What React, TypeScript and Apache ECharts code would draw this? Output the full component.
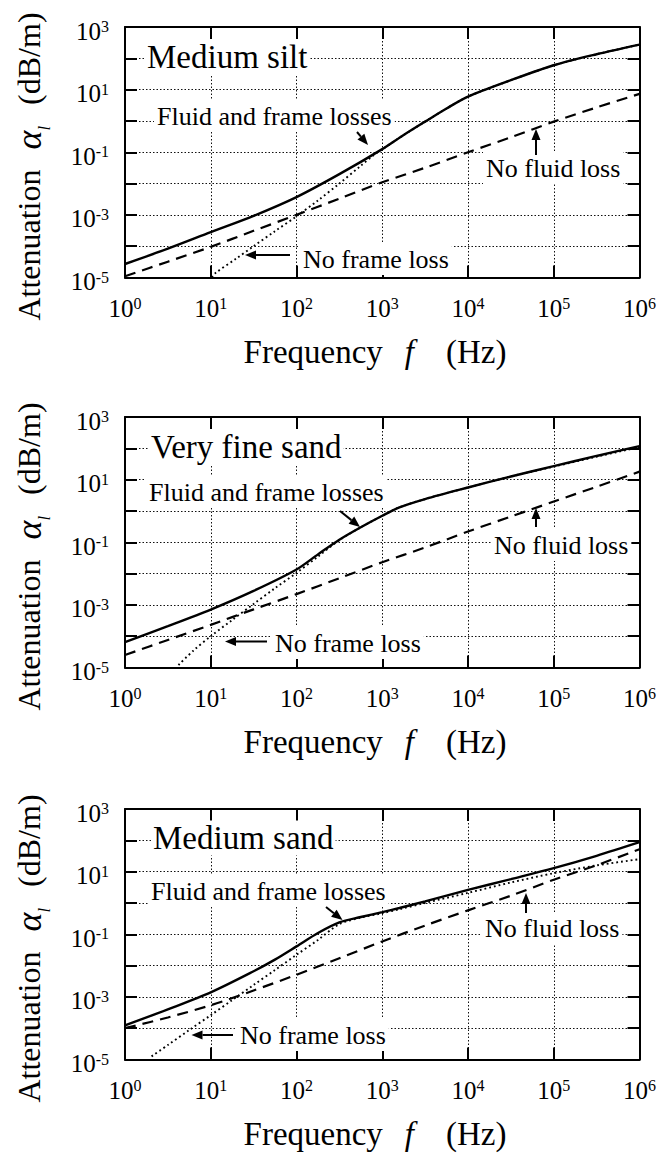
import { useEffect, useRef } from "react";
import * as echarts from "echarts";

// ---------------- data ----------------
// Frequency in Hz, attenuation in dB/m
// Panel 1: Medium silt
const siltFluidFrameF = [1, 3.16, 10, 31.6, 100, 316, 1000, 1778, 3160, 5620, 1e4, 3.16e4, 1e5, 3.16e5, 1e6];
const siltFluidFrameA = [2.7e-5, 8.3e-5, 2.8e-4, 9.3e-4, 3.7e-3, 0.02, 0.126, 0.355, 0.95, 2.5, 6.0, 20, 60, 135, 275];
const siltNoFluidF = [1, 3.16, 10, 31.6, 100, 316, 1000, 3160, 1e4, 3.16e4, 1e5, 3.16e5, 1e6];
const siltNoFluidA = [1.1e-5, 3.2e-5, 9.5e-5, 3.1e-4, 1.0e-3, 3.3e-3, 0.011, 0.032, 0.1, 0.3, 0.95, 2.7, 7.3];
const siltNoFrameF = [10.3, 11.2, 20, 31.6, 56, 100, 178, 316, 562, 800, 1000, 1778, 3160, 5620, 1e4, 3.16e4, 1e5, 3.16e5, 1e6];
const siltNoFrameA = [1.0e-5, 1.35e-5, 4.1e-5, 1.0e-4, 3.0e-4, 9.0e-4, 2.9e-3, 0.01, 0.037, 0.082, 0.124, 0.355, 0.95, 2.5, 6.0, 20, 60, 135, 275];

// Panel 2: Very fine sand
const vfsFluidFrameF = [1, 3.16, 10, 31.6, 100, 178, 316, 562, 1000, 1585, 3160, 1e4, 3.16e4, 1e5, 3.16e5, 1e6];
const vfsFluidFrameA = [6.5e-5, 2.1e-4, 7.1e-4, 2.8e-3, 0.0135, 0.041, 0.12, 0.3, 0.7, 1.3, 2.4, 5.6, 12.6, 27, 57, 118];
const vfsNoFluidF = [1, 3.16, 10, 31.6, 100, 316, 1000, 3160, 1e4, 3.16e4, 1e5, 3.16e5, 1e6];
const vfsNoFluidA = [2.5e-5, 7.6e-5, 2.3e-4, 7.2e-4, 2.2e-3, 7.1e-3, 0.023, 0.068, 0.22, 0.66, 2.0, 5.9, 18];
const vfsNoFrameF = [4.2, 6.3, 10, 17.8, 31.6, 56, 100, 178, 316, 562, 1000, 1585, 3160, 1e4, 3.16e4, 1e5, 3.16e5, 1e6];
const vfsNoFrameA = [1.2e-5, 3.5e-5, 1.0e-4, 3.3e-4, 1.07e-3, 3.4e-3, 0.0105, 0.035, 0.117, 0.3, 0.7, 1.3, 2.4, 5.6, 12.6, 26, 54, 110];

// Panel 3: Medium sand
const msFluidFrameF = [1, 3.16, 10, 31.6, 56, 100, 178, 316, 562, 1000, 1585, 3160, 1e4, 3.16e4, 1e5, 3.16e5, 1e6];
const msFluidFrameA = [1.23e-4, 4.0e-4, 1.4e-3, 6.6e-3, 0.0155, 0.041, 0.11, 0.24, 0.355, 0.51, 0.69, 1.12, 2.6, 5.75, 12.9, 32, 87];
const msNoFluidF = [1, 3.16, 10, 31.6, 100, 316, 1000, 3160, 1e4, 3.16e4, 1e5, 3.16e5, 1e6];
const msNoFluidA = [1.0e-4, 2.2e-4, 5.4e-4, 1.6e-3, 5.1e-3, 0.017, 0.059, 0.19, 0.58, 1.7, 5.5, 16, 52];
const msNoFrameF = [2.04, 3.16, 5.6, 10, 17.8, 31.6, 56, 100, 178, 316, 562, 1000, 1585, 3160, 1e4, 3.16e4, 1e5, 3.16e5, 1e6];
const msNoFrameA = [1.26e-5, 2.9e-5, 8.7e-5, 2.6e-4, 7.9e-4, 2.4e-3, 7.2e-3, 0.022, 0.066, 0.21, 0.34, 0.47, 0.63, 1.0, 2.1, 4.5, 8.9, 15.8, 25];

// Axis ranges and tick labels
const X_MIN = 1;
const X_MAX = 1e6;
const Y_MIN = 1e-5;
const Y_MAX = 1e3;
const X_LABEL_EXPONENTS = [0, 1, 2, 3, 4, 5, 6];
const Y_LABEL_EXPONENTS = [-5, -3, -1, 1, 3];

// Texts
const PANEL_TITLES = ["Medium silt", "Very fine sand", "Medium sand"];
const LABEL_FLUID_FRAME = "Fluid and frame losses";
const LABEL_NO_FRAME = "No frame loss";
const LABEL_NO_FLUID = "No fluid loss";

const PANELS = [
  { title: PANEL_TITLES[0], full: [siltFluidFrameF, siltFluidFrameA], noFluid: [siltNoFluidF, siltNoFluidA], noFrame: [siltNoFrameF, siltNoFrameA] },
  { title: PANEL_TITLES[1], full: [vfsFluidFrameF, vfsFluidFrameA], noFluid: [vfsNoFluidF, vfsNoFluidA], noFrame: [vfsNoFrameF, vfsNoFrameA] },
  { title: PANEL_TITLES[2], full: [msFluidFrameF, msFluidFrameA], noFluid: [msNoFluidF, msNoFluidA], noFrame: [msNoFrameF, msNoFrameA] },
];

// ---------------- layout (pixels) ----------------
const FONT = "Liberation Serif, Times New Roman, serif";
const GRID_LEFT = 125;
const GRID_W = 515;
const GRID_H = 250.5;
const GRID_TOPS = [27, 417, 809];

const ANNOT = [
  { title: [147, 57], ff: [157, 116], ffArrow: [357, 132, 368, 145], nfr: [303, 259], nfrArrow: [290, 255, 245, 255], nfl: [486, 168], nflArrow: [536, 155, 536, 129], yTitle: 166.5, xTitle: 352 },
  { title: [151, 447], ff: [149, 492], ffArrow: [340, 511, 360, 527], nfr: [275, 643], nfrArrow: [267, 641.5, 225, 641.5], nfl: [494, 545], nflArrow: [536, 527, 536, 508], yTitle: 556.5, xTitle: 742 },
  { title: [153, 838], ff: [151, 891], ffArrow: [326, 907, 342.5, 920], nfr: [240, 1035], nfrArrow: [233, 1035, 191.5, 1035], nfl: [485, 928], nflArrow: [526, 913, 526, 893], yTitle: 948.5, xTitle: 1134 },
];

const zip = (f: number[], a: number[]) => f.map((x, i) => [x, a[i]]);

const TICK_RICH = {
  b: { fontFamily: FONT, fontSize: 25, lineHeight: 25, padding: [5, 0, 0, 0], verticalAlign: "bottom", color: "#000" },
  s: { fontFamily: FONT, fontSize: 16, lineHeight: 16, verticalAlign: "top", color: "#000" },
};

function annText(text: string, x: number, y: number, size: number) {
  const pad = 3;
  return {
    type: "text",
    x: x - pad,
    y,
    z: 10,
    style: {
      text,
      fontSize: size,
      fontFamily: FONT,
      fill: "#000",
      align: "left",
      verticalAlign: "middle",
      backgroundColor: "#fff",
      padding: [pad, pad, pad, pad],
    },
  };
}

function arrow(x1: number, y1: number, x2: number, y2: number) {
  const dx = x2 - x1;
  const dy = y2 - y1;
  const L = Math.hypot(dx, dy);
  const ux = dx / L;
  const uy = dy / L;
  const hl = 11;
  const hw = 4.5;
  const bx = x2 - ux * hl;
  const by = y2 - uy * hl;
  const px = -uy;
  const py = ux;
  return [
    { type: "line", z: 11, shape: { x1, y1, x2: bx, y2: by }, style: { stroke: "#000", lineWidth: 2 } },
    {
      type: "polygon",
      z: 11,
      shape: { points: [[x2, y2], [bx + px * hw, by + py * hw], [bx - px * hw, by - py * hw]] },
      style: { fill: "#000" },
    },
  ];
}

function buildOption() {
  const grid: any[] = [];
  const xAxis: any[] = [];
  const yAxis: any[] = [];
  const series: any[] = [];
  const graphic: any[] = [];

  const axisLine = { show: true, onZero: false, lineStyle: { color: "#000", width: 2 } };
  const axisTick = { show: true, inside: true, length: 12, lineStyle: { color: "#000", width: 2 } };
  const splitLine = { show: true, lineStyle: { color: "#111", width: 1, type: [1.5, 2] } };

  PANELS.forEach((p, i) => {
    grid.push({ left: GRID_LEFT, top: GRID_TOPS[i], width: GRID_W, height: GRID_H, containLabel: false });
    xAxis.push({
      type: "log", logBase: 10, gridIndex: i, min: X_MIN, max: X_MAX, position: "bottom", splitNumber: 6,
      axisLine, axisTick, splitLine, minorTick: { show: false },
      axisLabel: {
        show: true, margin: 18, showMinLabel: true, showMaxLabel: true,
        fontFamily: FONT, fontSize: 25, color: "#000",
        formatter: (v: number) => {
          const e = Math.round(Math.log10(v));
          return X_LABEL_EXPONENTS.includes(e) ? `{b|10}{s|${e}}` : "";
        },
        rich: TICK_RICH,
      },
    });
    xAxis.push({
      type: "log", logBase: 10, gridIndex: i, min: X_MIN, max: X_MAX, position: "top", splitNumber: 6,
      axisLine, axisTick, splitLine: { show: false }, axisLabel: { show: false },
    });
    yAxis.push({
      type: "log", logBase: 10, gridIndex: i, min: Y_MIN, max: Y_MAX, position: "left", splitNumber: 8,
      axisLine, axisTick, splitLine, minorTick: { show: false },
      axisLabel: {
        show: true, margin: 16, showMinLabel: true, showMaxLabel: true, padding: [8, 0, 0, 0],
        fontFamily: FONT, fontSize: 25, color: "#000",
        formatter: (v: number) => {
          const e = Math.round(Math.log10(v));
          return Y_LABEL_EXPONENTS.includes(e) ? `{b|10}{s|${e}}` : "";
        },
        rich: TICK_RICH,
      },
    });
    yAxis.push({
      type: "log", logBase: 10, gridIndex: i, min: Y_MIN, max: Y_MAX, position: "right", splitNumber: 8,
      axisLine, axisTick, splitLine: { show: false }, axisLabel: { show: false },
    });

    const base = { type: "line", xAxisIndex: 2 * i, yAxisIndex: 2 * i, showSymbol: false, symbol: "none", smooth: 0.3, clip: true };
    series.push({ ...base, name: LABEL_NO_FLUID, data: zip(p.noFluid[0], p.noFluid[1]), z: 3, lineStyle: { color: "#000", width: 2.2, type: [11, 7] } });
    series.push({ ...base, name: LABEL_NO_FRAME, data: zip(p.noFrame[0], p.noFrame[1]), z: 4, lineStyle: { color: "#000", width: 1.9, type: [1.8, 3] } });
    series.push({ ...base, name: LABEL_FLUID_FRAME, data: zip(p.full[0], p.full[1]), z: 5, lineStyle: { color: "#000", width: 2.4, type: "solid" } });

    const a = ANNOT[i];
    graphic.push({
      type: "text", x: a.title[0] - 2, y: a.title[1], z: 10,
      style: { text: p.title, fontSize: 33, fontFamily: FONT, fill: "#000", align: "left", verticalAlign: "middle", backgroundColor: "#fff", padding: [1, 2, 1, 2] },
    });
    graphic.push(annText(LABEL_FLUID_FRAME, a.ff[0], a.ff[1], 26));
    graphic.push(annText(LABEL_NO_FRAME, a.nfr[0], a.nfr[1], 26));
    graphic.push(annText(LABEL_NO_FLUID, a.nfl[0], a.nfl[1], 26));
    graphic.push(...arrow(a.ffArrow[0], a.ffArrow[1], a.ffArrow[2], a.ffArrow[3]));
    graphic.push(...arrow(a.nfrArrow[0], a.nfrArrow[1], a.nfrArrow[2], a.nfrArrow[3]));
    graphic.push(...arrow(a.nflArrow[0], a.nflArrow[1], a.nflArrow[2], a.nflArrow[3]));

    // y-axis title (rotated)
    graphic.push({
      type: "text", x: 28.5, y: a.yTitle, rotation: Math.PI / 2, z: 10,
      style: {
        text: "{t|Attenuation}{g1| }{a|α}{l|l}{g2| }{t|(dB/m)}",
        align: "center", verticalAlign: "middle", fill: "#000",
        fontFamily: FONT, fontSize: 32,
        rich: {
          t: { fontFamily: FONT, fontSize: 32, lineHeight: 48, fill: "#000" },
          g1: { fontFamily: FONT, fontSize: 32, width: 20 },
          g2: { fontFamily: FONT, fontSize: 32, width: 21 },
          a: { fontFamily: FONT, fontSize: 36, fontStyle: "italic", fill: "#000" },
          l: { fontFamily: FONT, fontSize: 17, lineHeight: 17, fontStyle: "italic", verticalAlign: "bottom", fill: "#000" },
        },
      },
    });
    // x-axis title
    graphic.push({
      type: "text", x: 375, y: a.xTitle, z: 10,
      style: {
        text: "{t|Frequency}{g1| }{i|f}{g2| }{t|(Hz)}",
        align: "center", verticalAlign: "middle", fill: "#000",
        fontFamily: FONT, fontSize: 33,
        rich: {
          t: { fontFamily: FONT, fontSize: 33, fill: "#000" },
          i: { fontFamily: FONT, fontSize: 33, fontStyle: "italic", fill: "#000" },
          g1: { fontFamily: FONT, fontSize: 33, width: 22 },
          g2: { fontFamily: FONT, fontSize: 33, width: 32 },
        },
      },
    });
  });

  return {
    animation: false,
    backgroundColor: "#fff",
    textStyle: { fontFamily: FONT },
    grid,
    xAxis,
    yAxis,
    series,
    graphic,
  };
}

export default function App() {
  const ref = useRef<HTMLDivElement>(null);
  useEffect(() => {
    document.body.style.margin = "0";
    const chart = echarts.init(ref.current as HTMLDivElement, null, { renderer: "svg" });
    chart.setOption(buildOption() as any);
    return () => chart.dispose();
  }, []);
  return (
    <div
      ref={ref}
      style={{ position: "absolute", left: 0, top: 0, width: 659, height: 1158, background: "#fff" }}
    />
  );
}
